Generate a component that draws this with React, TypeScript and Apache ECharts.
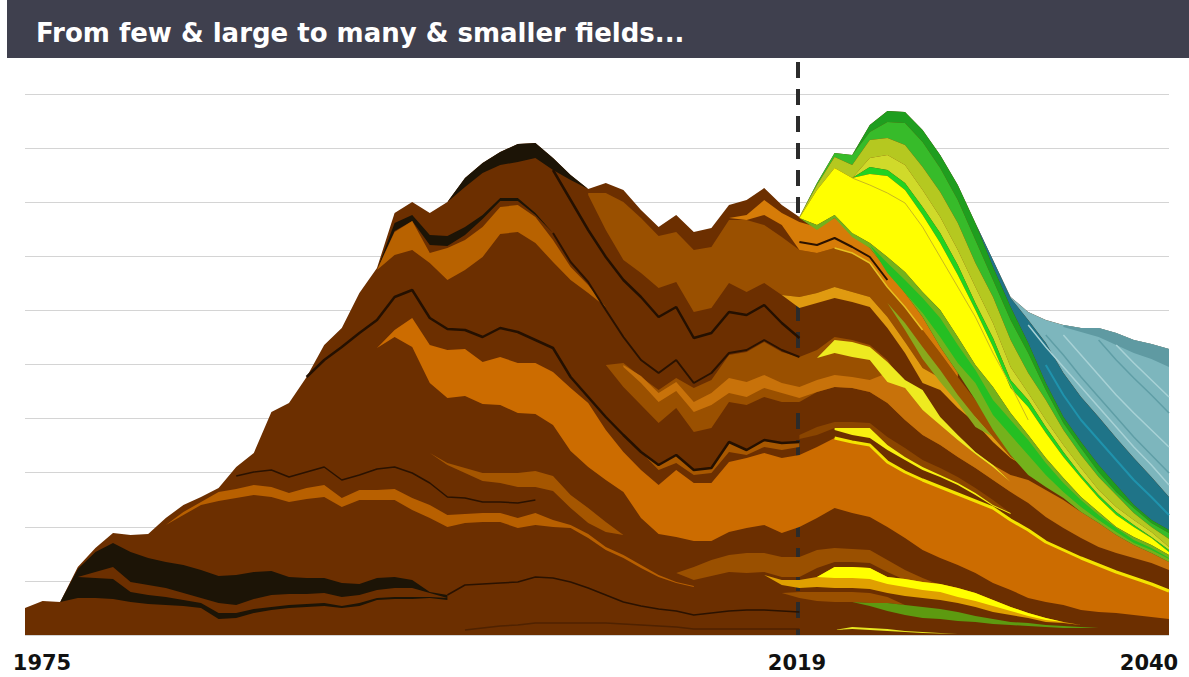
import React, { useEffect, useRef } from "react";
import * as echarts from "echarts";

const TITLE = "From few & large to many & smaller fields...";
const TICK_LABELS = ["1975", "2019", "2040"];

// Heights are read off the picture; the vertical axis has no labels, so units are arbitrary.
const OUTLINE = [27,34,33,68,87,102,100,101,117,130,138,147,168,182,223,232,258,290,307,342,367,422,433,422,433,457,472,483,491,492,477,460,446,452,445,425,408,420,403,407,430,435,447,430,418,452,482,480,510,524,523,505,480,450,412,375,338,323,315,310,307,307,302,295,291,286];

const CAP_T = [433,457,472,483,491,492,477,460,446];
const CAP_B = [433,448,462,470,473,477,465,455,446];
const BLOB_T = [365,412,420,400,399,408,420,437,437,422,402];
const BLOB_B = [365,404,414,390,389,400,416,434,434,420,402];
const O1_T = [365,403,414,382,387,395,408,428,430,418,395,368,350,328];
const O1_B = [365,380,385,372,355,365,378,401,403,392,373,355,342,328];
const M_T = [442,442,433,417,399,403,385,388,415,415,410,398,385,382,387,382,372,348,328,305,282,258,235,208,185,167];
const M_B = [440,405,375,362,347,353,323,327,352,343,352,340,338,342,348,343,338,318,293,267,257,235,218,198,178,167];
const AM5_T = [340,338,342,348,343,338,318,293,267,257,235,218,198,178,167];
const AM5_B = [340,327,332,337,333,328,307,282,252,245,227,212,193,177,167];
const AM1_T = [417,420,435,422,413,408,417,403,387,365,342,318,288,262];
const AM1_B = [417,415,420,410,385,382,387,382,372,348,328,305,282,258];
const K_T = [270,272,258,245,257,247,255,280,283,293,283,278,285,298,295,290,275,250,227,212,197,183,170,155];
const K_B = [270,248,230,212,227,203,207,233,230,238,233,233,243,248,247,243,232,215,200,190,178,167,155,143];
const AM2_T = [270,259,242,253,233,242,257,253,260,252,248,255,260,258,255,262,247,225,212,197,181,170,160,155,145,135,123,112,100,90,82,73];
const AM2_B = [268,252,233,244,223,230,242,238,247,242,237,243,248,247,243,232,215,200,190,178,167,155,143,132,118,107,97,88,82,77,72,65];
const Y4_T = [277,295,293,288,273,255,245,218,200,183,170,153];
const Y4_B = [277,282,278,275,253,247,225,210,195,181,168,153];
const MD2_T = [200,208,213,213,212,198,187,175,167,158,147,135,122];
const MD2_B = [196,200,207,207,207,190,178,168,160,152,142,130,122];
const Y5_T = [207,207,207,190,178,168,160,152,142,130,122];
const Y5_B = [205,200,197,185,175,165,158,150,140,129,121];
const O5_T = [183,170,180,165,167,193,185,195,192,193];
const O5_B = [183,165,172,160,162,183,180,188,185,188];
const O2_T = [287,305,317,290,285,286,273,278,272,272,263,247,232,205,183,165,150,165,152,152,173,177,182,177,180,188,197,193,190,173,163,155,148,141,134,127,115,105,93,85,77,70,63,57,51,44];
const O2_B = [287,298,288,252,237,239,231,230,222,221,210,184,168,155,143,117,101,98,94,94,103,107,110,102,108,117,127,122,118,108,97,85,77,70,62,52,45,37,33,30,25,23,22,20,18,16];
const O3_T = [182,172,167,162,162,162,164,159,140,127,113,100];
const O3_B = [182,170,162,154,152,148,148,144,127,112,103,100];
const O4_T = [110,123,133,143,146,150,148,142,147,150,137,145,145,146,137,130,120,121,122,122,117,122,115,110,101,88,80,70,60,53,49];
const O4_B = [110,120,130,134,137,140,138,133,136,138,128,135,135,135,125,117,108,112,113,113,107,110,108,107,97,85,77,67,58,52,48];
const R_T = [62,68,75,80,82,82,78,78,85,87,86,85,75,65,57,50,45];
const R_B = [62,55,59,63,62,63,58,58,67,73,73,72,63,55,50,47,45];
const AM3_T = [60,55,55,58,68,68,67,58,56,53,51,47,42,35,28,22,17,13,10,8];
const AM3_B = [60,50,47,48,47,47,46,42,39,37,35,32,28,23,20,17,13,12,10,8];
const Y2_T = [55,58,68,68,67,58,56,53,51,47,42,35,28,22,17,13,10,8];
const Y2_B = [55,58,57,57,56,51,48,45,43,38,34,29,24,19,15,13,10,8];
const R2_T = [42,43,43,43,43,42,38,30];
const R2_B = [42,37,34,33,33,32,32,30];
const GR_T = [33,32,32,30,28,26,23,19,16,13,12,10,9,8,7];
const GR_B = [33,29,24,20,17,16,14,13,11,10,9,8,7,7,7];
const Y3_T = [5,8,7,6,4,3,2,1];
const Y3_B = [5,6,5,4,3,2,1.5,1];
const E_T = [33,66,83,92,83,77,73,70,65,59,60,63,64,58,57,57,52,51,57,58,55,43,40];
const E_B = [33,37,37,36,33,31,30,29,27,16,17,22,25,27,28,29,27,29,35,36,36,37,35];
const W_T = [58,63,68,53,50,47,42,37,32,30,36,40,41,41,42,38,40,45,47,47,42,37];
const W_B = [58,57,56,43,40,38,35,32,22,22,26,28,30,31,32,29,32,37,38,38,38,37];
const TEAL_L_T = [412,375,338,323,315,310,307,307,302,295,291,286];
const TEAL_L_B = [412,375,337,315,292,262,238,218,197,177,158,138];
const TEAL_D_B = [412,368,328,292,252,218,193,170,150,130,115,105];
const FRINGE_T = [310,307,307,302,295,291,286];
const FRINGE_B = [308,303,298,290,282,276,268];
const GD_T = [418,452,482,480,510,524,523,505,480,450,412,368,328,292,252,218,193,170,150,130,115,105];
const G1 = [418,452,482,480,503,513,512,493,467,435,395,355,315,282,245,212,187,163,143,127,112,102];
const GY_T = [418,450,478,470,495,497,490,468,443,412,372,338,295,262,235,205,180,158,140,122,108,96];
const LIME_T = [417,445,467,457,477,480,470,445,418,385,348,312,268,242,215,190,167,145,128,115,103,88];
const BG_T = [417,445,467,457,468,465,452,428,402,370,332,297,255,235,208,183,160,140,123,110,98,85];
const YEL_T = [417,445,467,457,461,459,445,420,392,360,325,288,247,228,202,178,157,137,120,108,97,83];
const YEL_B = [417,410,420,402,392,378,363,343,325,298,270,248,222,200,177,157,138,123,108,98,90,80];
const GA_B = [417,405,417,398,387,365,342,318,288,262,235,205,180,160,148,137,123,112,100,90,82,73];
const G2_T = [390,372,355,337,317,290,265,235,215,195,172,152,135,120,107,95,87,77];
const G2_B = [390,362,342,322,298,272,252,220,200,180,160,143,128,115,103,92,85,76];
const GB_T = [332,312,288,265,240,218,198];
const GB_B = [332,305,276,253,232,208,198];

// Thin lines
const LB1 = [465,435,405,378,355,338,318,328,297,302,323,320,330,312,297];
const LB2 = [402,373,353,325,298,275,262,275,252,262,282,285,295,285,278];
const LB3 = [258,275,288,302,315,338,345,317,306,305,298,307,303,295,287,258,238,218,200,183,170,180,165,167,193,185,195,192,193];
const LB5 = [159,163,165,158,163,168,155,160,166,168,162,152,138,137,133,133,132,135];
const LG = [40,50,51,52,53,58,57,53,47,40,33,29,26,24,20,22,24,25,25,24,23];
const LOW = [5,7,9,10,12,12,12,12,12,11,10,9,8,6,6,6,6,6,6,6];
const DL = [393,390,397,388,378,355];
const YM = [387,382,372,348,328,305];
const YHAIR = [457,450,442,432,408,378,348,318,282,250,215];
const S1 = [310,288,268,248,228,208,188,170,150];
const S2 = [300,280,258,238,218,198,180,162];
const S3 = [300,280,260,240,222,205,188];
const S4 = [295,275,257,240,222];
const S5 = [290,272,255,238];
const TBLUE = [270,240,215,195,175,155,138,120];

const BASE = "#6c2f00";
const bands: [string, number, number[], number[]][] = [
  ["#1c1406", 1999, CAP_T, CAP_B],
  ["#1c1406", 1995, BLOB_T, BLOB_B],
  ["#b86200", 1995, O1_T, O1_B],
  ["#9a5000", 2007, M_T, M_B],
  ["#e09a10", 2018, AM5_T, AM5_B],
  ["#d67c08", 2015, AM1_T, AM1_B],
  ["#9a5000", 2008, K_T, K_B],
  ["#c8720a", 2009, AM2_T, AM2_B],
  ["#eeea20", 2020, Y4_T, Y4_B],
  ["#8a4500", 2019, MD2_T, MD2_B],
  ["#f8f010", 2021, Y5_T, Y5_B],
  ["#a85800", 2010, O5_T, O5_B],
  ["#cc6c00", 1995, O2_T, O2_B],
  ["#a55600", 1998, O3_T, O3_B],
  ["#b86000", 1983, O4_T, O4_B],
  ["#9a5000", 2012, R_T, R_B],
  ["#e0a000", 2017, AM3_T, AM3_B],
  ["#ffff00", 2019, Y2_T, Y2_B],
  ["#9a5000", 2018, R2_T, R2_B],
  ["#5d9a10", 2022, GR_T, GR_B],
  ["#e8e820", 2021, Y3_T, Y3_B],
  ["#1c1406", 1977, E_T, E_B],
  [BASE, 1978, W_T, W_B],
  ["#7db6bd", 2029, TEAL_L_T, TEAL_L_B],
  ["#5f9aa2", 2034, FRINGE_T, FRINGE_B],
  ["#1f7488", 2029, TEAL_L_B, TEAL_D_B],
  ["#1f9e1f", 2019, GD_T, G1],
  ["#37bb2a", 2019, G1, GY_T],
  ["#b5c820", 2019, GY_T, LIME_T],
  ["#d0da2a", 2019, LIME_T, BG_T],
  ["#21d321", 2019, BG_T, YEL_T],
  ["#ffff00", 2019, YEL_T, YEL_B],
  ["#74b21c", 2019, YEL_B, GA_B],
  ["#25bf22", 2023, G2_T, G2_B],
  ["#8aa81c", 2024, GB_T, GB_B],
];

const lines: [string, number, number, number[]][] = [
  ["#241000", 2.5, 2005, LB1],
  ["#2a1200", 2, 2005, LB2],
  ["#241000", 2.5, 1991, LB3],
  ["#2a1200", 1.5, 1987, LB5],
  ["#2a1200", 1.5, 1999, LG],
  ["#4f2200", 1.5, 2000, LOW],
  ["#2a1200", 2, 2019, DL],
  ["#e8c020", 1.5, 2021, YM],
  ["#c8b820", 1, 2022, YHAIR],
  ["#f4e400", 3, 2021, O2_T.slice(26)],
  ["#a8d2d6", 1.5, 2032, S1],
  ["#5f9ea6", 1.5, 2033, S2],
  ["#a8d2d6", 1.5, 2034, S3],
  ["#5f9ea6", 1.5, 2036, S4],
  ["#a8d2d6", 1.5, 2037, S5],
  ["#1f93ad", 2, 2033, TBLUE],
];

const pts = (start: number, arr: number[]) => arr.map((v, i) => [start + i, v]);

// One polygon per band, between its upper and lower boundary, through the chart's scales.
const bandSeries = (color: string, start: number, top: number[], bottom: number[], z: number) => ({
  type: "custom",
  silent: true,
  z,
  data: top.map((v, i) => [start + i, v, bottom[i]]),
  encode: { x: 0, y: 1 },
  renderItem: (params: any, api: any) => {
    if (params.dataIndex !== 0) return null;
    const upper = top.map((v, i) => api.coord([start + i, v]));
    const lower = bottom.map((v, i) => api.coord([start + i, v])).reverse();
    return { type: "polygon", shape: { points: [...upper, ...lower] }, style: { fill: color } };
  },
});

export default function App() {
  const ref = useRef<HTMLDivElement>(null);
  useEffect(() => {
    const chart = echarts.init(ref.current!, undefined, { renderer: "svg" });
    const series: any[] = [
      {
        type: "line", silent: true, symbol: "none", z: 1, lineStyle: { width: 0 },
        areaStyle: { color: BASE, opacity: 1 }, data: pts(1975, OUTLINE),
      },
    ];
    bands.forEach(([c, s, t, b], i) => series.push(bandSeries(c, s, t, b, 2 + i)));
    lines.forEach(([c, w, s, arr], i) =>
      series.push({ type: "line", silent: true, symbol: "none", z: 100 + i, lineStyle: { color: c, width: w }, data: pts(s, arr) })
    );
    series.push({
      type: "line", silent: true, symbol: "none", lineStyle: { width: 0 }, data: [[2019, 0]], z: 300,
      markLine: {
        silent: true, symbol: "none", label: { show: false }, animation: false,
        lineStyle: { color: "#2b2b2b", width: 4, type: [16, 11] },
        data: [[{ coord: [2018.9, 573] }, { coord: [2018.9, 0] }]],
      },
    });
    chart.setOption({
      animation: false,
      title: {
        text: TITLE, left: 31, top: 15,
        textStyle: { color: "#ffffff", fontFamily: "DejaVu Sans", fontWeight: "bold", fontSize: 26 },
      },
      grid: { left: 25, right: 20, top: 62, bottom: 42 },
      xAxis: {
        type: "value", min: 1975, max: 2040, interval: 65,
        axisLine: { show: false }, axisTick: { show: false }, axisLabel: { show: false }, splitLine: { show: false },
      },
      yAxis: {
        type: "value", min: 0, max: 573, interval: 54.1,
        axisLine: { show: false }, axisTick: { show: false }, axisLabel: { show: false },
        splitLine: { show: true, showMaxLine: false, lineStyle: { color: "#d4d4d4", width: 1 } },
      },
      graphic: [
        { type: "rect", z: -1, shape: { x: 7, y: 0, width: 1182, height: 58 }, style: { fill: "#3f404e" } },
        ...TICK_LABELS.map((t, i) => ({
          type: "text", x: [42, 797, 1149][i], y: 663,
          style: { text: t, fill: "#111111", font: "bold 21px 'DejaVu Sans'", textAlign: "center", textVerticalAlign: "middle" },
        })),
      ],
      series,
    });
    return () => chart.dispose();
  }, []);
  return <div ref={ref} style={{ position: "absolute", left: 0, top: 0, width: 1189, height: 677 }} />;
}
